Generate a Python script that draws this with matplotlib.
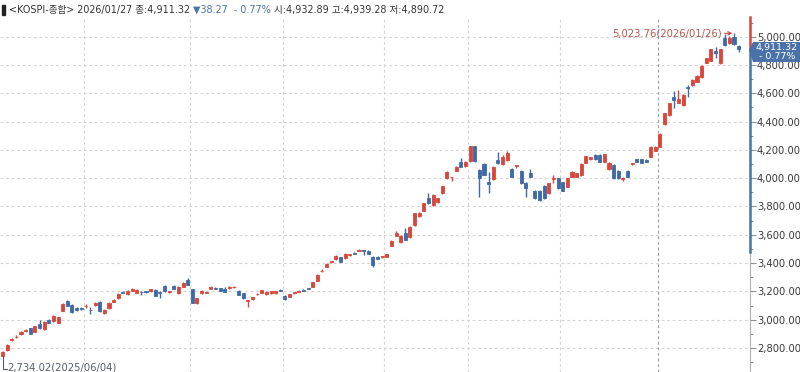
import matplotlib
matplotlib.use('Agg')
import matplotlib.pyplot as plt
from matplotlib.patches import Polygon, Rectangle
from matplotlib.ticker import MultipleLocator, FuncFormatter

plt.rcParams['font.family'] = ['DejaVu Sans', 'Noto Sans CJK KR']

# KOSPI daily candles, 2025/06/04 ~ 2026/01/27
opens = [2742, 2788, 2858, 2876, 2900, 2921, 2938, 2916, 2972, 2934,
         2997, 2988, 2980, 3064, 3131, 3103, 3086, 3082, 3098, 3072,
         3105, 3125, 3046, 3082, 3128, 3152, 3197, 3182, 3206, 3192,
         3198, 3200, 3200, 3210, 3194, 3238, 3196, 3238, 3188, 3234,
         3280, 3214, 3116, 3186, 3192, 3220, 3223, 3221, 3220, 3226,
         3232, 3205, 3186, 3134, 3145, 3180, 3192, 3182, 3186, 3188,
         3212, 3170, 3163, 3188, 3199, 3212, 3222, 3233, 3276, 3342,
         3375, 3410, 3427, 3440, 3434, 3456, 3472, 3488, 3490, 3488,
         3445, 3444, 3440, 3445, 3523, 3591, 3548, 3610, 3582, 3669,
         3734, 3770, 3858, 3812, 3834, 3893, 3999, 4006, 4053, 4112,
         4086, 4121, 4227, 4058, 4100, 3975, 3992, 4129, 4100, 4129,
         4065, 4086, 4053, 3968, 4034, 3912, 3912, 3945, 3893, 3996,
         3999, 3970, 3940, 4011, 4011, 4022, 4110, 4133, 4164, 4164,
         4117, 4063, 4093, 4053, 3992, 4053, 4100, 4133, 4133, 4132,
         4152, 4195, 4223, 4383, 4447, 4571, 4534, 4517, 4647, 4659,
         4682, 4713, 4816, 4831, 4901, 4812, 4988, 4953, 5000, 4932.89]
highs = [2778, 2830, 2872, 2890, 2918, 2932, 2942, 2958, 2998, 2990,
         3002, 3030, 3020, 3118, 3136, 3108, 3090, 3088, 3112, 3092,
         3124, 3130, 3076, 3122, 3148, 3190, 3200, 3208, 3224, 3214,
         3202, 3204, 3218, 3214, 3200, 3246, 3204, 3242, 3236, 3264,
         3292, 3218, 3154, 3208, 3200, 3236, 3228, 3226, 3234, 3236,
         3240, 3208, 3190, 3140, 3160, 3186, 3212, 3200, 3206, 3204,
         3216, 3176, 3182, 3196, 3207, 3216, 3226, 3266, 3322, 3360,
         3400, 3418, 3455, 3446, 3468, 3466, 3476, 3497, 3496, 3492,
         3450, 3448, 3450, 3466, 3560, 3625, 3598, 3648, 3662, 3756,
         3760, 3826, 3893, 3890, 3862, 3948, 4048, 4010, 4084, 4140,
         4120, 4230, 4230, 4062, 4106, 4046, 4084, 4187, 4166, 4190,
         4072, 4095, 4058, 3972, 4062, 3918, 3916, 3950, 3966, 4026,
         4004, 3975, 4002, 4050, 4038, 4104, 4160, 4150, 4168, 4168,
         4172, 4114, 4098, 4058, 4006, 4058, 4110, 4138, 4136, 4136,
         4226, 4226, 4316, 4462, 4532, 4618, 4623, 4592, 4659, 4698,
         4726, 4800, 4850, 4915, 4930, 4915, 5019, 5005, 5023.76, 4939.28]
lows = [2734.02, 2782, 2848, 2868, 2895, 2915, 2896, 2912, 2936, 2930,
        2976, 2984, 2976, 3060, 3096, 3048, 3062, 3072, 3082, 3038,
        3100, 3054, 3040, 3078, 3124, 3148, 3186, 3178, 3202, 3188,
        3175, 3192, 3196, 3164, 3156, 3196, 3192, 3216, 3184, 3230,
        3242, 3116, 3110, 3182, 3188, 3216, 3214, 3202, 3195, 3220,
        3226, 3172, 3148, 3092, 3140, 3176, 3188, 3178, 3182, 3184,
        3200, 3138, 3158, 3184, 3195, 3203, 3214, 3230, 3272, 3334,
        3370, 3404, 3424, 3406, 3430, 3452, 3464, 3482, 3456, 3462,
        3375, 3428, 3436, 3442, 3520, 3588, 3540, 3560, 3578, 3665,
        3728, 3766, 3818, 3800, 3828, 3888, 3994, 3980, 4048, 4078,
        4082, 4118, 4118, 3869, 4020, 3893, 3988, 4100, 4096, 4125,
        4008, 4070, 3960, 3869, 4008, 3852, 3840, 3852, 3888, 3964,
        3924, 3908, 3936, 4006, 4006, 4018, 4106, 4130, 4130, 4114,
        4113, 4058, 3995, 3995, 3982, 4008, 4096, 4114, 4106, 4116,
        4148, 4190, 4218, 4378, 4440, 4494, 4528, 4512, 4576, 4654,
        4678, 4708, 4812, 4826, 4847, 4806, 4936, 4948, 4940, 4890.72]
closes = [2770, 2824, 2862, 2880, 2914, 2928, 2900, 2954, 2942, 2986,
          2980, 3026, 3016, 3113, 3100, 3052, 3066, 3076, 3100, 3070,
          3121, 3058, 3071, 3118, 3142, 3185, 3190, 3204, 3220, 3210,
          3194, 3196, 3214, 3168, 3189, 3200, 3200, 3220, 3232, 3260,
          3246, 3120, 3150, 3204, 3198, 3232, 3220, 3205, 3198, 3229,
          3234, 3175, 3152, 3136, 3157, 3182, 3210, 3198, 3204, 3200,
          3204, 3144, 3179, 3193, 3204, 3206, 3218, 3263, 3318, 3346,
          3396, 3414, 3452, 3410, 3464, 3462, 3466, 3491, 3482, 3466,
          3386, 3432, 3447, 3462, 3553, 3612, 3590, 3563, 3657, 3752,
          3756, 3822, 3822, 3884, 3858, 3945, 4044, 4008, 4081, 4081,
          4117, 4227, 4121, 3999, 4022, 3959, 4081, 4105, 4152, 4180,
          4011, 4093, 3964, 3928, 4011, 3858, 3846, 3858, 3963, 3999,
          3928, 3912, 3999, 4046, 4034, 4100, 4157, 4147, 4133, 4117,
          4168, 4110, 3999, 3999, 3998, 4011, 4106, 4117, 4110, 4118,
          4223, 4223, 4312, 4458, 4529, 4553, 4557, 4588, 4635, 4694,
          4722, 4795, 4847, 4911, 4882, 4911, 4941, 4988, 4949.59, 4911.32]

# index of first trading day of each month (Jul ~ Jan)
month_start_idx = [18, 41, 61, 83, 101, 121, 142]

high_label = '5,023.76(2026/01/26)'
low_label = '2,734.02(2025/06/04)'
high_idx, high_val = 158, 5023.76
low_idx, low_val = 0, 2734.02

RED = '#d9463b'
BLUE = '#3f6aa6'
TAGBLUE = '#4a72a8'
GRID = '#d4d4d4'

W, H = 800, 372
fig = plt.figure(figsize=(8, 3.72), dpi=100)
ax = fig.add_axes([0, 0, 750 / W, (H - 17) / H])
ax.set_xlim(-0.54, 161.45)
ax.set_ylim(2630.4, 5139.2)

# grid
for v in range(2800, 5001, 200):
    ax.axhline(v, color=GRID, lw=0.8, ls=(0, (2.5, 2.5)), zorder=0)
for k, m in enumerate(month_start_idx):
    c = '#9a9a9a' if k == len(month_start_idx) - 1 else GRID
    ax.axvline(m - 0.5, color=c, lw=0.8, ls=(0, (2.5, 2.5)), zorder=0)

# candles
x = list(range(len(closes)))
cols = [RED if c >= o else BLUE for o, c in zip(opens, closes)]
ax.vlines(x, lows, highs, colors=cols, lw=1.0, zorder=2)
ax.bar(x, [max(abs(c - o), 1) for o, c in zip(opens, closes)],
       bottom=[min(o, c) for o, c in zip(opens, closes)],
       width=0.66, color=cols, edgecolor=cols, lw=0.6, zorder=3)

# high / low marks
ax.annotate(high_label, xy=(high_idx - 0.35, high_val), xytext=(high_idx - 2.6, high_val),
            ha='right', va='center', color='#b8574d', fontsize=7.2,
            arrowprops=dict(arrowstyle='->', color='#c9483e', lw=0.8,
                            shrinkA=0, shrinkB=0, mutation_scale=6))
ax.plot([low_idx, low_idx, low_idx + 0.9], [low_val, 2652, 2652],
        color='#555d70', lw=0.8, clip_on=False)
ax.text(low_idx + 1.0, 2664, low_label, ha='left', va='center',
        color='#555d70', fontsize=7.2)

# right axis
for s in ['left', 'top', 'bottom']:
    ax.spines[s].set_visible(False)
ax.spines['right'].set_color('#b0b0b0')
ax.xaxis.set_visible(False)
ax.yaxis.tick_right()
ax.yaxis.set_major_locator(MultipleLocator(200))
ax.yaxis.set_minor_locator(MultipleLocator(100))
ax.yaxis.set_major_formatter(FuncFormatter(lambda v, p: f'{v:,.2f}'))
ax.tick_params(axis='y', which='major', length=4, width=0.8, color='#909090',
               labelsize=7.2, labelcolor='#3a3a3a', pad=1)
ax.tick_params(axis='y', which='minor', length=2, width=0.8, color='#909090')
last = closes[-1]
ax.plot([161.45, 161.45], [last, 5139.2], color=RED, lw=1.8, clip_on=False, zorder=5)
ax.plot([161.45, 161.45], [3478, last], color=TAGBLUE, lw=1.8, clip_on=False, zorder=5)

# current price tag (pixel coords from top-left)
top, bot, tip = 42, 62, 50
tag = [(749, tip), (753, top), (800, top), (800, bot), (753, bot)]
fig.add_artist(Polygon([(px / W, 1 - py / H) for px, py in tag], closed=True,
                       facecolor=TAGBLUE, edgecolor='none', transform=fig.transFigure))
fig.text(777 / W, 1 - 47.5 / H, f'{last:,.2f}', ha='center', va='center',
         color='white', fontsize=6.8)
fig.text(777 / W, 1 - 56.5 / H, '- 0.77%', ha='center', va='center',
         color='white', fontsize=6.8)

# header
fig.add_artist(Rectangle((2 / W, (H - 15) / H), 3 / W, 10 / H, color='#222222',
                         transform=fig.transFigure))
pieces = [('<KOSPI-종합> 2026/01/27 종:4,911.32 ', '#333333'),
          ('▼38.27  - 0.77%', TAGBLUE),
          (' 시:4,932.89 고:4,939.28 저:4,890.72', '#333333')]
r = fig.canvas.get_renderer()
xpos = 9
for txt, c in pieces:
    t = fig.text(xpos / W, (H - 10) / H, txt, ha='left', va='center', color=c, fontsize=6.9)
    xpos += t.get_window_extent(renderer=r).width

fig.savefig('out.png', dpi=100)
